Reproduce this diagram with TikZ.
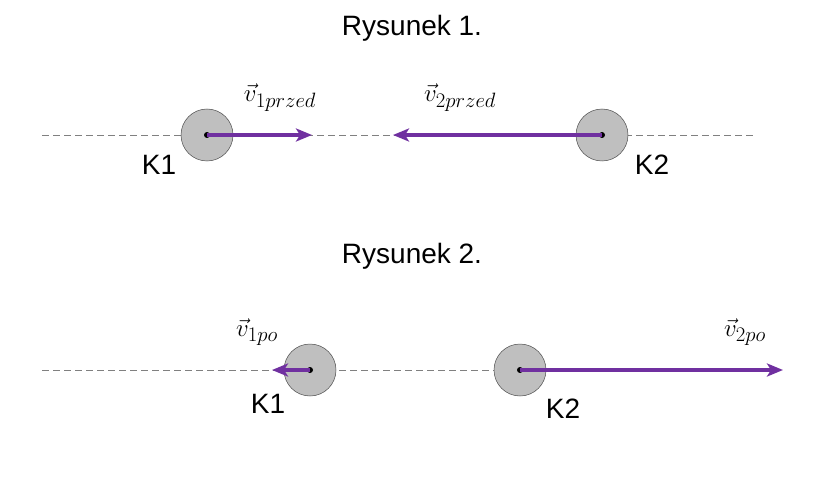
\documentclass[tikz,border=0pt]{standalone}
\usepackage{fontspec}
\setmainfont{Liberation Sans}
\usetikzlibrary{arrows.meta}
\begin{document}
\begin{tikzpicture}[x=1pt,y=-1pt,
  ball/.style={circle,draw=black!70,fill=black!25,minimum size=52pt,inner sep=0pt,line width=0.5pt},
  axis/.style={gray,line width=0.7pt,dash pattern=on 7pt off 4pt},
  vec/.style={-{Stealth[length=16pt,width=13pt,inset=4pt]},draw={rgb,255:red,112;green,48;blue,160},line width=3.5pt},
  lbl/.style={font=\fontsize{28}{32}\selectfont},
  vl/.style={font=\fontsize{32}{36}\selectfont}]
\useasboundingbox (0,0) rectangle (832,489);
\node[lbl] (t1) at (412,28) {Rysunek 1.};
\coordinate (a1) at (42,135); \coordinate (b1) at (755,135);
\draw[axis] (a1) -- (b1);
\node[ball] (k1) at (207,135) {};
\node[ball] (k2) at (602,135) {};
\fill (k1.center) circle (3pt); \fill (k2.center) circle (3pt);
\coordinate (e1) at (312,135); \coordinate (e2) at (393,135);
\draw[vec] (k1.center) -- (e1);
\draw[vec] (k2.center) -- (e2);
\node[vl] (v1) at (280,98) {$\vec{v}_{1przed}$};
\node[vl] (v2) at (460,98) {$\vec{v}_{2przed}$};
\node[lbl] (n1) at (159,165) {K1};
\node[lbl] (n2) at (652,165) {K2};
\node[lbl] (t2) at (412,256) {Rysunek 2.};
\coordinate (a2) at (42,370); \coordinate (b2) at (775,370);
\draw[axis] (a2) -- (b2);
\node[ball] (m1) at (310,370) {};
\node[ball] (m2) at (520,370) {};
\fill (m1.center) circle (3pt); \fill (m2.center) circle (3pt);
\coordinate (f1) at (272,370); \coordinate (f2) at (783,370);
\draw[vec] (m1.center) -- (f1);
\draw[vec] (m2.center) -- (f2);
\node[vl] (w1) at (257,332) {$\vec{v}_{1po}$};
\node[vl] (w2) at (745,332) {$\vec{v}_{2po}$};
\node[lbl] (p1) at (268,404) {K1};
\node[lbl] (p2) at (563,409) {K2};
\end{tikzpicture}
\end{document}
